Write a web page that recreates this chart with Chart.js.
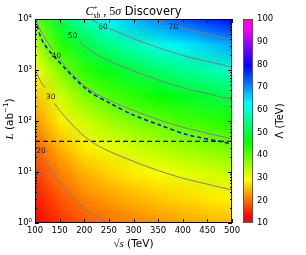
<!DOCTYPE html>
<html>
<head>
<meta charset="utf-8">
<script src="https://cdn.jsdelivr.net/npm/chart.js@4.4.1/dist/chart.umd.min.js"></script>
<style>
  html, body { margin: 0; padding: 0; background: #fff; }
  #wrap { position: relative; width: 306px; height: 255px; overflow: hidden; }
  #main { position: absolute; left: 0; top: 0; }
  #cbar { position: absolute; left: 230px; top: 0; }
</style>
</head>
<body>
<div id="wrap">
  <canvas id="main" width="306" height="255"></canvas>
  <canvas id="cbar" width="76" height="255"></canvas>
</div>
<script>
// ---- data ----
const xTicks = [100, 150, 200, 250, 300, 350, 400, 450, 500];
const yTicks = [1, 10, 100, 1000, 10000];
const cbarTicks = [10, 20, 30, 40, 50, 60, 70, 80, 90, 100];

// Lambda (TeV) on a grid: columns = sqrt(s), rows = L (bottom row first)
const gridSqrtS = [100, 150, 200, 250, 300, 350, 400, 450, 500];
const gridL = [1, 3.16, 10, 31.6, 100, 316, 1000, 3162, 10000];
const lambdaGrid = [
  [12.6, 15.9, 18.4, 20.0, 21.2, 22.3, 23.3, 24.1, 24.9],
  [14.6, 18.4, 21.3, 23.1, 24.5, 25.8, 26.9, 27.8, 28.8],
  [16.8, 21.2, 24.5, 26.7, 28.3, 29.7, 31.1, 32.1, 33.2],
  [19.4, 24.5, 28.3, 30.8, 32.6, 34.3, 35.9, 37.1, 38.3],
  [22.4, 28.3, 32.7, 35.6, 37.7, 39.6, 41.4, 42.8, 44.3],
  [25.9, 32.7, 37.8, 41.1, 43.5, 45.8, 47.9, 49.5, 51.1],
  [29.9, 37.7, 43.6, 47.4, 50.3, 52.9, 55.2, 57.1, 59.0],
  [34.5, 43.5, 50.4, 54.8, 58.0, 61.1, 63.8, 66.0, 68.2],
  [39.8, 50.3, 58.2, 63.2, 67.0, 70.5, 73.7, 76.2, 78.7]
];

// contour lines [sqrt(s), L]; null = gap left for the inline label
const contour20 = [[100, 40], [105, 33], null, [118, 18.5], [125, 13.8], [150, 6.3], [175, 3.3], [200, 1.95], [225, 1.33], [250, 1.0]];
const contour30 = [[100, 1030], [110, 630], [120, 450], null, [140, 220], [150, 161], [175, 86], [200, 50], [225, 34], [250, 25.6], [275, 20.2], [300, 16.1], [350, 10.7], [400, 7.55], [450, 5.77], [500, 4.44]];
const contour40 = [[100, 10300], [110, 6310], [125, 3550], [136, 2500], null, [150, 1610], [175, 857], [200, 499], [225, 340], [250, 256], [275, 202], [300, 161], [350, 107], [400, 75.5], [450, 57.7], [500, 44.4]];
const contour50 = [[148, 10000], [160, 7310], null, [190, 3700], [200, 2980], [225, 2030], [250, 1530], [275, 1205], [300, 959], [350, 640], [400, 450], [450, 344], [500, 264]];
const contour60 = [[212, 10000], [228, 8400], null, [250, 6580], [275, 5190], [300, 4120], [350, 2750], [400, 1930], [450, 1480], [500, 1140]];
const contour70 = [[343, 10000], [350, 9420], [365, 8470], null, [395, 6870], [400, 6640], [450, 5070], [500, 3900]];
const blueDashed = [[100, 10000], [102, 8710], [116, 3550], [145, 1585], [206, 407], [252, 224], [299, 132], [354, 83], [409, 54], [480, 39], [500, 35.5]];
const blackDashed = [[100, 40], [500, 40]];

const labelText = ["20", "30", "40", "50", "60", "70"];
const labelSqrtS = [112, 132, 143, 176, 238, 381];
const labelL = [26, 290, 1850, 4700, 6900, 7000];

// ---- helpers ----
const cmapStops = [
  [0, [255, 0, 41]], [0.03, [255, 0, 0]], [0.215, [255, 255, 0]], [0.4, [0, 255, 0]],
  [0.586, [0, 255, 255]], [0.77, [0, 0, 255]], [0.954, [255, 0, 255]], [1, [255, 0, 191]]
];

function cmap(v) {
  let t = (v - 10) / 90;
  t = Math.max(0, Math.min(1, t));
  for (let i = 1; i < cmapStops.length; i++) {
    const [t1, c1] = cmapStops[i];
    const [t0, c0] = cmapStops[i - 1];
    if (t <= t1) {
      const f = (t - t0) / (t1 - t0);
      return c0.map((c, k) => Math.round(c + (c1[k] - c) * f));
    }
  }
  return cmapStops[cmapStops.length - 1][1];
}

const toPoints = (arr) => arr.map((p) => (p ? { x: p[0], y: p[1] } : { x: NaN, y: null }));
const sup = ["⁰", "¹", "²", "³", "⁴"];
const SANS = "'DejaVu Sans', sans-serif";
const SERIF = "'Liberation Serif', serif";

// draw a row of text pieces; each piece {t, f, dy, stack}
function drawRuns(ctx, runs, x, y, align) {
  let w = 0;
  const widths = runs.map((r) => {
    ctx.font = r.f;
    return ctx.measureText(r.t).width;
  });
  runs.forEach((r, i) => { if (!r.stack) w += widths[i]; else w += Math.max(0, widths[i] - widths[i - 1]); });
  let cx = align === "center" ? x - w / 2 : x;
  let lastX = cx;
  ctx.textAlign = "left";
  ctx.textBaseline = "alphabetic";
  runs.forEach((r, i) => {
    ctx.font = r.f;
    const px = r.stack ? lastX : cx;
    ctx.fillText(r.t, px, y + (r.dy || 0));
    if (r.stack) cx = Math.max(cx, lastX + widths[i]);
    else { lastX = cx; cx += widths[i]; }
  });
}

const contourStyle = {
  borderColor: "#7f7f7f", borderWidth: 1, pointRadius: 0, fill: false, tension: 0.3, spanGaps: false
};

// heatmap under the lines
const heatmapPlugin = {
  id: "heatmap",
  beforeDatasetsDraw(chart) {
    const { ctx, chartArea, scales } = chart;
    const nx = gridSqrtS.length, ny = gridL.length;
    const off = document.createElement("canvas");
    off.width = nx; off.height = ny;
    const octx = off.getContext("2d");
    const img = octx.createImageData(nx, ny);
    for (let j = 0; j < ny; j++) {
      for (let i = 0; i < nx; i++) {
        const c = cmap(lambdaGrid[j][i]);
        const k = ((ny - 1 - j) * nx + i) * 4;
        img.data[k] = c[0]; img.data[k + 1] = c[1]; img.data[k + 2] = c[2]; img.data[k + 3] = 255;
      }
    }
    octx.putImageData(img, 0, 0);
    const x0 = scales.x.getPixelForValue(gridSqrtS[0]);
    const x1 = scales.x.getPixelForValue(gridSqrtS[nx - 1]);
    const yb = scales.y.getPixelForValue(gridL[0]);
    const yt = scales.y.getPixelForValue(gridL[ny - 1]);
    const dx = (x1 - x0) / (nx - 1), dy = (yb - yt) / (ny - 1);
    ctx.save();
    ctx.beginPath();
    ctx.rect(chartArea.left, chartArea.top, chartArea.width, chartArea.height);
    ctx.clip();
    ctx.imageSmoothingEnabled = true;
    ctx.imageSmoothingQuality = "low";
    ctx.drawImage(off, x0 - dx / 2, yt - dy / 2, dx * nx, dy * ny);
    ctx.restore();
  }
};

const decorPlugin = {
  id: "decor",
  afterDatasetsDraw(chart) {
    const { ctx, scales } = chart;
    ctx.save();
    ctx.fillStyle = "#111";
    ctx.font = `7.5px ${SANS}`;
    ctx.textAlign = "center";
    ctx.textBaseline = "middle";
    labelText.forEach((t, i) => {
      ctx.fillText(t, scales.x.getPixelForValue(labelSqrtS[i]), scales.y.getPixelForValue(labelL[i]));
    });
    ctx.restore();
  },
  afterDraw(chart) {
    const { ctx, chartArea: a, scales } = chart;
    ctx.save();
    ctx.strokeStyle = "#000";
    ctx.lineWidth = 1;
    ctx.strokeRect(a.left + 0.5, a.top + 0.5, a.width - 1, a.height - 1);
    ctx.beginPath();
    xTicks.forEach((v) => {
      const px = Math.round(scales.x.getPixelForValue(v)) + 0.5;
      ctx.moveTo(px, a.bottom); ctx.lineTo(px, a.bottom - 4);
      ctx.moveTo(px, a.top); ctx.lineTo(px, a.top + 4);
    });
    for (let d = 0; d < 4; d++) {
      for (let m = 1; m <= 9; m++) {
        const v = m * Math.pow(10, d);
        const py = Math.round(scales.y.getPixelForValue(v)) + 0.5;
        const len = m === 1 ? 4 : 2;
        ctx.moveTo(a.left, py); ctx.lineTo(a.left + len, py);
        ctx.moveTo(a.right, py); ctx.lineTo(a.right - len, py);
      }
    }
    ctx.stroke();

    // title
    ctx.fillStyle = "#000";
    drawRuns(ctx, [
      { t: "C", f: `italic 12px ${SERIF}` },
      { t: "+", f: `7px ${SERIF}`, dy: -5 },
      { t: "sb", f: `italic 7.5px ${SERIF}`, dy: 3, stack: true },
      { t: " , 5", f: `12px ${SERIF}` },
      { t: "σ", f: `italic 12px ${SERIF}` },
      { t: " Discovery", f: `11.5px ${SANS}` }
    ], (a.left + a.right) / 2, 15, "center");

    // x axis title
    drawRuns(ctx, [
      { t: "√", f: `11px ${SERIF}` },
      { t: "s", f: `italic 11px ${SERIF}` },
      { t: " (TeV)", f: `10.5px ${SANS}` }
    ], (a.left + a.right) / 2, 247, "center");

    // y axis title
    ctx.translate(13, (a.top + a.bottom) / 2 - 2);
    ctx.rotate(-Math.PI / 2);
    drawRuns(ctx, [
      { t: "L", f: `italic 11px ${SERIF}` },
      { t: " (ab", f: `10.5px ${SANS}` },
      { t: "−1", f: `7px ${SANS}`, dy: -5 },
      { t: ")", f: `10.5px ${SANS}` }
    ], 0, 0, "center");
    ctx.restore();
  }
};

new Chart(document.getElementById("main"), {
  type: "line",
  data: {
    datasets: [
      { ...contourStyle, data: toPoints(contour20) },
      { ...contourStyle, data: toPoints(contour30) },
      { ...contourStyle, data: toPoints(contour40) },
      { ...contourStyle, data: toPoints(contour50) },
      { ...contourStyle, data: toPoints(contour60) },
      { ...contourStyle, data: toPoints(contour70) },
      { data: toPoints(blueDashed), borderColor: "#0000ff", borderWidth: 1.5, borderDash: [4, 3], pointRadius: 0, tension: 0.3, fill: false },
      { data: toPoints(blackDashed), borderColor: "#000", borderWidth: 1.2, borderDash: [5, 3], pointRadius: 0, fill: false }
    ]
  },
  options: {
    responsive: false,
    animation: false,
    devicePixelRatio: 1,
    layout: { padding: { top: 19, right: 74, bottom: 0, left: 0 } },
    plugins: { legend: { display: false }, tooltip: { enabled: false }, title: { display: false } },
    scales: {
      x: {
        type: "linear", min: 100, max: 500,
        afterBuildTicks: (s) => { s.ticks = xTicks.map((v) => ({ value: v })); },
        afterFit: (s) => { s.height = 32; },
        grid: { display: false, drawTicks: false },
        border: { display: false },
        ticks: { color: "#000", font: { family: "DejaVu Sans", size: 8.5 }, padding: 3, maxRotation: 0, autoSkip: false }
      },
      y: {
        type: "logarithmic", min: 1, max: 10000,
        afterBuildTicks: (s) => { s.ticks = yTicks.map((v) => ({ value: v })); },
        afterFit: (s) => { s.width = 35; },
        grid: { display: false, drawTicks: false },
        border: { display: false },
        ticks: {
          color: "#000", font: { family: "DejaVu Sans", size: 8.5 }, padding: 3, autoSkip: false,
          callback: (v) => "10" + sup[Math.round(Math.log10(v))]
        }
      }
    }
  },
  plugins: [heatmapPlugin, decorPlugin]
});

// ---- colour bar ----
const cbarPlugin = {
  id: "cbarDecor",
  afterDraw(chart) {
    const { ctx, chartArea: a } = chart;
    ctx.save();
    ctx.strokeStyle = "#555";
    ctx.lineWidth = 1;
    ctx.strokeRect(a.left + 0.5, a.top + 0.5, a.width - 1, a.height - 1);
    ctx.fillStyle = "#000";
    ctx.translate(53, (a.top + a.bottom) / 2);
    ctx.rotate(-Math.PI / 2);
    drawRuns(ctx, [
      { t: "Λ", f: `10px ${SANS}` },
      { t: " (TeV)", f: `10px ${SANS}` }
    ], 0, 0, "center");
    ctx.restore();
  }
};

new Chart(document.getElementById("cbar"), {
  type: "bar",
  data: {
    labels: [""],
    datasets: [{
      data: [[10, 100]],
      barPercentage: 1,
      categoryPercentage: 1,
      borderWidth: 0,
      backgroundColor: (c) => {
        const ch = c.chart;
        if (!ch.chartArea) return "#fff";
        const ys = ch.scales.y;
        const g = ch.ctx.createLinearGradient(0, ys.getPixelForValue(10), 0, ys.getPixelForValue(100));
        cmapStops.forEach(([t, col]) => g.addColorStop(t, `rgb(${col.join(",")})`));
        return g;
      }
    }]
  },
  options: {
    responsive: false,
    animation: false,
    devicePixelRatio: 1,
    layout: { padding: { top: 19, right: 0, bottom: 32, left: 13 } },
    plugins: { legend: { display: false }, tooltip: { enabled: false } },
    scales: {
      x: { display: false },
      y: {
        position: "right", min: 10, max: 100,
        afterBuildTicks: (s) => { s.ticks = cbarTicks.map((v) => ({ value: v })); },
        afterFit: (s) => { s.width = 53; },
        grid: { display: false, drawTicks: false },
        border: { display: false },
        ticks: { color: "#000", font: { family: "DejaVu Sans", size: 8.5 }, padding: 4, autoSkip: false }
      }
    }
  },
  plugins: [cbarPlugin]
});
</script>
</body>
</html>
